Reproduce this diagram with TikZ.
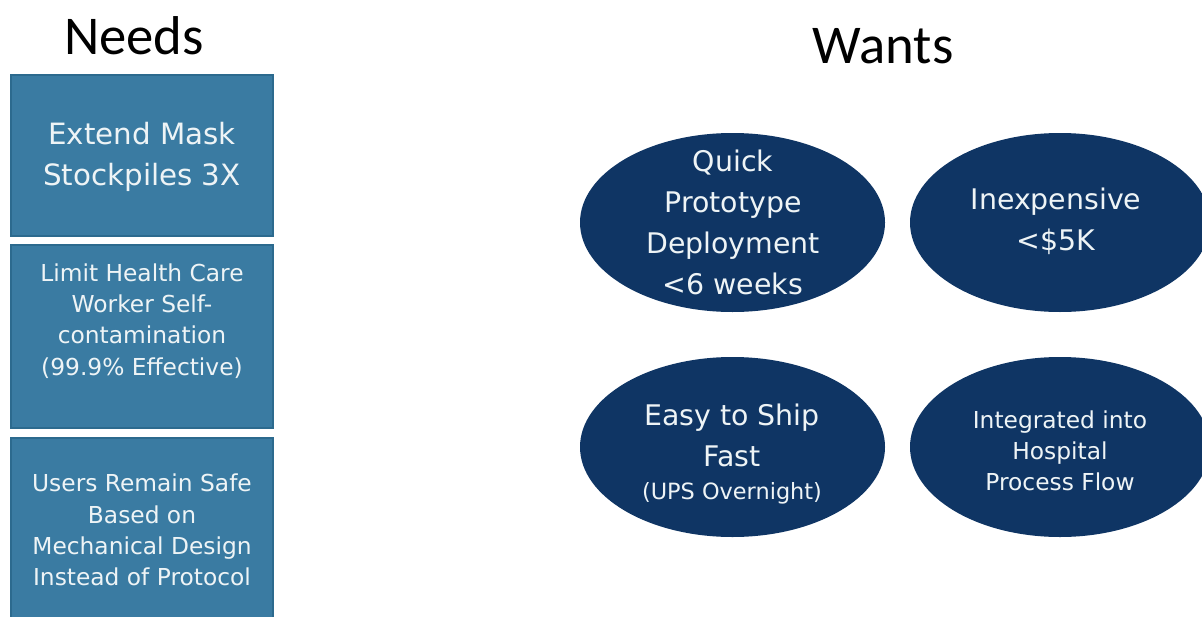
\documentclass[tikz,border=0pt]{standalone}
\usepackage{fontspec}
\setmainfont{DejaVu Sans}
\newfontfamily\headfont{Carlito}
\usetikzlibrary{shapes.geometric}
\definecolor{needblue}{HTML}{3A7BA2}
\definecolor{neededge}{HTML}{2C6A8E}
\definecolor{wantnavy}{HTML}{0F3564}
\definecolor{lighttext}{HTML}{EEF4F6}
\tikzset{
  heading/.style={anchor=base, text=black, font=\headfont\fontsize{41}{48}\selectfont, inner sep=0pt},
  needbox/.style={draw=neededge, line width=0.8pt, fill=needblue, rectangle, inner sep=0pt},
  wantell/.style={ellipse, fill=wantnavy, draw=none, inner sep=0pt},
  boxtxt/.style={text=lighttext, align=center, inner sep=0pt, font=\fontsize{22}{30.75}\selectfont},
  bigtxt/.style={text=lighttext, align=center, inner sep=0pt, font=\fontsize{21.3}{30.75}\selectfont},
  smalltxt/.style={text=lighttext, align=center, inner sep=0pt, font=\fontsize{17.5}{23.4}\selectfont},
  uptxt/.style={text=lighttext, align=center, inner sep=0pt, font=\fontsize{16.8}{23.4}\selectfont}
}
\begin{document}
\begin{tikzpicture}[x=0.75pt,y=-0.75pt]
\useasboundingbox (0,0) rectangle (1202,617);
\fill[white] (0,0) rectangle (1202,617);
\clip (0,0) rectangle (1202,617);

% headings
\node[heading] (needs) at (134,55) {Needs};
\node[heading] (wants) at (883,64) {Wants};

% needs boxes
\node[needbox, minimum width=262*0.75pt, minimum height=161*0.75pt] (b1) at (142,155.5) {};
\node[needbox, minimum width=262*0.75pt, minimum height=183*0.75pt] (b2) at (142,336.5) {};
\node[needbox, minimum width=262*0.75pt, minimum height=185*0.75pt] (b3) at (142,530.5) {};

\node[boxtxt] (t1) at (142,157) {Extend Mask\\Stockpiles 3X};
\node[smalltxt] (t2) at (142,321) {Limit Health Care\\Worker Self-\\contamination\\(99.9\% Effective)};
\node[smalltxt] (t3) at (142,530) {Users Remain Safe\\Based on\\Mechanical Design\\Instead of Protocol};

% wants ellipses
\node[wantell, minimum width=305*0.75pt, minimum height=179*0.75pt] (e1) at (732.5,222.5) {};
\node[wantell, minimum width=300*0.75pt, minimum height=179*0.75pt] (e2) at (1060,222.5) {};
\node[wantell, minimum width=305*0.75pt, minimum height=180*0.75pt] (e3) at (732.5,447) {};
\node[wantell, minimum width=300*0.75pt, minimum height=180*0.75pt] (e4) at (1060,447) {};

\node[bigtxt] (w1) at (733,222) {Quick\\Prototype\\Deployment\\<6 weeks};
\node[bigtxt] (w2) at (1056,221) {Inexpensive\\<\$5K};
\node[bigtxt] (w3a) at (732,435) {Easy to Ship\\Fast};
\node[uptxt, anchor=base] (w3b) at (732,499) {(UPS Overnight)};
\node[smalltxt] (w4) at (1060,450.5) {Integrated into\\Hospital\\Process Flow};
\end{tikzpicture}
\end{document}
